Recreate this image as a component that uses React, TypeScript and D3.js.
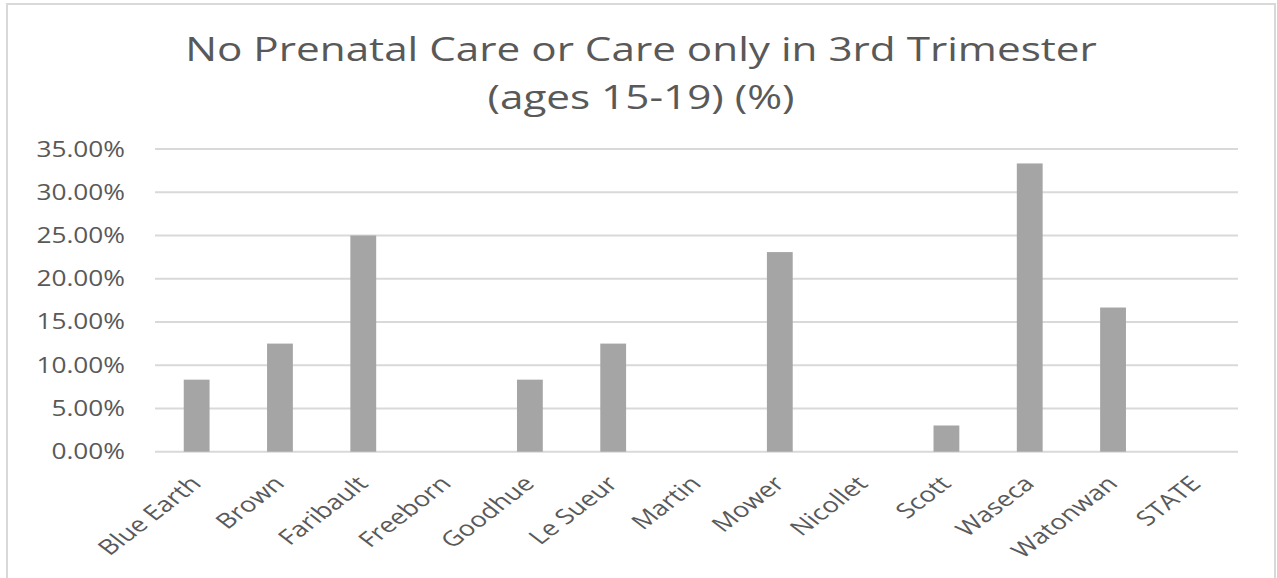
import React, { useEffect, useRef } from "react";
import * as d3 from "d3";

const categories = ["Blue Earth", "Brown", "Faribault", "Freeborn", "Goodhue", "Le Sueur", "Martin", "Mower", "Nicollet", "Scott", "Waseca", "Watonwan", "STATE"];
const values = [0.0833, 0.125, 0.25, 0, 0.0833, 0.125, 0, 0.2308, 0, 0.0303, 0.3333, 0.1667, 0];
const yTicks = [0, 0.05, 0.1, 0.15, 0.2, 0.25, 0.3, 0.35];
const titleLines = ["No Prenatal Care or Care only in 3rd Trimester", "(ages 15-19) (%)"];

const W = 1277, H = 578;
const FONT = "'Open Sans', sans-serif";
const TEXT = "#595959";

export default function App() {
  const ref = useRef<SVGSVGElement>(null);
  useEffect(() => {
    const svg = d3.select(ref.current);
    svg.selectAll("*").remove();
    const x = d3.scaleBand().domain(categories).range([155, 1238]).paddingInner(0.69).paddingOuter(0.345);
    const y = d3.scaleLinear().domain([0, 0.35]).range([451.7, 149]);

    svg.append("rect").attr("x", 7).attr("y", 4).attr("width", W - 9).attr("height", H + 10)
      .attr("fill", "#fff").attr("stroke", "#d9d9d9").attr("stroke-width", 2);

    const title = svg.append("g").attr("transform", `translate(641,0) scale(1.28,1)`);
    title.selectAll("text").data(titleLines).join("text")
      .attr("x", 0).attr("y", (_, i) => 61 + i * 48)
      .attr("text-anchor", "middle").attr("font-family", FONT).attr("font-size", 33)
      .attr("fill", TEXT).text(d => d);

    svg.append("g").selectAll("line").data(yTicks).join("line")
      .attr("x1", 155).attr("x2", 1238).attr("y1", d => y(d)).attr("y2", d => y(d))
      .attr("stroke", "#d9d9d9").attr("stroke-width", 2);

    svg.append("g").selectAll("text").data(yTicks).join("text")
      .attr("transform", d => `translate(125,${y(d) + 7.5}) scale(1.25,1)`)
      .attr("text-anchor", "end").attr("font-family", FONT).attr("font-size", 21)
      .attr("fill", TEXT).text(d => d3.format(".2%")(d));

    svg.append("g").selectAll("rect").data(categories).join("rect")
      .attr("x", d => x(d)!).attr("width", x.bandwidth())
      .attr("y", (_, i) => y(values[i])).attr("height", (_, i) => y(0) - y(values[i]))
      .attr("fill", "#a5a5a5");

    svg.append("g").selectAll("text").data(categories).join("text")
      .attr("transform", d => `translate(${x(d)! + x.bandwidth() / 2 + 6},${485}) scale(1.3,1) rotate(-45)`)
      .attr("text-anchor", "end").attr("font-family", FONT).attr("font-size", 21)
      .attr("fill", TEXT).text(d => d);
  }, []);
  return <svg ref={ref} width={W} height={H} style={{ position: "absolute", left: 0, top: 0 }} />;
}
